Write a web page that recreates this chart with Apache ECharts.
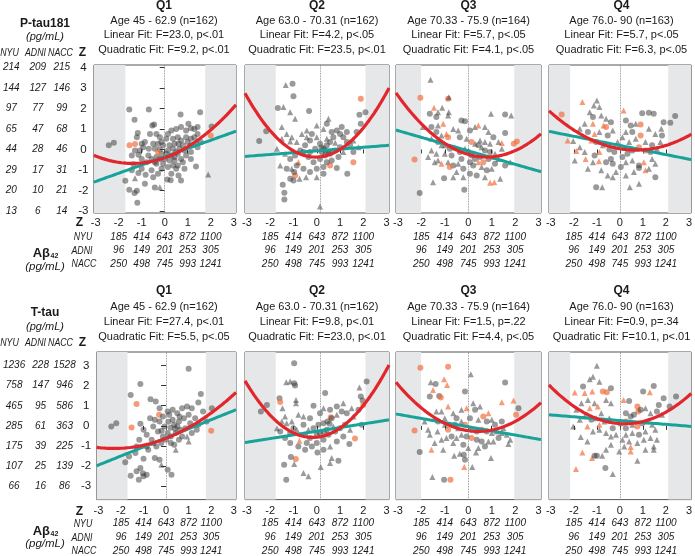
<!DOCTYPE html>
<html><head><meta charset="utf-8">
<script src="https://cdn.jsdelivr.net/npm/echarts@6/dist/echarts.min.js"></script>
<style>html,body{margin:0;padding:0;background:#fff}#c{width:695px;height:556px}</style>
</head><body><div id="c"></div>
<script>
// ---------- DATA ----------
const xTicks = [-3,-2,-1,0,1,2,3];
const zTicksRow1 = [-3,-2,-1,0,1,2,3,4];
const zTicksRow2 = [-3,-2,-1,0,1,2,3];
const abTableZ = [-2,-1,0,1,2];
const abNYU = ['185','414','643','872','1100'];
const abADNI = ['96','149','201','253','305'];
const abNACC = ['250','498','745','993','1241'];
const ptauNYU = ['13','20','29','44','65','97','144','214'];
const ptauADNI = ['6','10','17','28','47','77','127','209'];
const ptauNACC = ['14','21','31','46','68','99','146','215'];
const ttauNYU = ['66','107','175','285','465','758','1236'];
const ttauADNI = ['16','25','39','61','95','147','228'];
const ttauNACC = ['86','139','225','363','586','946','1528'];
const quartiles = ['Q1','Q2','Q3','Q4'];
const ageLabels = ['Age 45 - 62.9 (n=162)','Age 63.0 - 70.31 (n=162)','Age 70.33 - 75.9 (n=164)','Age 76.0- 90 (n=163)'];
const ptauLinearText = ['Linear Fit: F=23.0, p<.01','Linear Fit: F=4.2, p<.05','Linear Fit: F=5.7, p<.05','Linear Fit: F=5.7, p<.05'];
const ptauQuadText = ['Quadratic Fit: F=9.2, p<.01','Quadratic Fit: F=23.5, p<.01','Quadratic Fit: F=4.1, p<.05','Quadratic Fit: F=6.3, p<.05'];
const ttauLinearText = ['Linear Fit: F=27.4, p<.01','Linear Fit: F=9.8, p<.01','Linear Fit: F=1.5, p=.22','Linear Fit: F=0.9, p=.34'];
const ttauQuadText = ['Quadratic Fit: F=5.5, p<.05','Quadratic Fit: F=23.0, p<.01','Quadratic Fit: F=4.4, p<.05','Quadratic Fit: F=10.1, p<.01'];
const shadeLow = [-1.71,-1.76,-2.01,-2.16];
const shadeHigh = [1.76,2.09,1.96,2.1];
const refLine = [0,0.17,0,0];
// quadratic fit (vertex form) [a, h, k]: y = a(x-h)^2 + k ; linear fit [slope, intercept]
const ptauQuadFit = [[0.141,-1.4,-0.68],[0.339,-0.05,-0.37],[0.21,0.78,-0.37],[0.134,0.7,-0.03]];
const ptauLinFit = [[0.402,-0.356],[0.0875,-0.07],[-0.329,-0.067],[-0.223,0.195]];
const ttauQuadFit = [[0.0957,-2.3,-1.13],[0.3355,-0.18,-0.58],[0.2,0.42,-0.28],[0.18,0.2,0.1]];
const ttauLinFit = [[0.452,-0.6],[0.183,-0.27],[-0.207,-0.047],[-0.094,0.26]];
// points: [zAbeta, zTau, group]  group 0=gray circle,1=gray triangle,2=orange circle,3=orange triangle
const ptauQ1 = [[-2.43,0.2,0],[-2.21,0.33,0],[-1.54,1.95,0],[-1.31,1.45,0],[-0.69,1.95,0],[0.69,1.7,0],[1.54,1.82,0],[2.04,1.12,0],[1.89,-1.22,1],
[-1.71,-1.53,0],[-1.54,-1.97,0],[-1.31,-2.13,0],[-1.19,-2.6,0],[-1.21,-2.02,0],[-1.29,-1.4,1],[-0.86,-1.67,0],[-0.43,-1.85,0],[-0.21,-1.84,1],[0.11,-1.46,0],[0.26,-1.5,0],[0.71,-1.51,0],[0.6,-1.27,0],[1.36,-0.83,0],[-1.14,-1.15,0],[-1.0,-0.94,0],[-0.83,-1.24,0],[-0.5,-1.35,0],[-0.29,-1.19,0],[-0.57,-1.02,0],[-1.43,-1.02,0],[-1.36,-0.72,0],
[-1.17,0.8,0],[-1.21,0.6,0],[-0.86,0.36,0],[-0.54,1.17,0],[-0.46,1.22,0],[-0.36,0.76,0],[-0.21,0.6,0],[-0.5,0.28,0],[-0.69,0.03,0],[-1.07,-0.05,0],[-1.14,-0.26,0],[-1.0,-0.46,0],[-0.79,-0.62,0],[-0.57,-0.46,0],[-0.36,-0.37,0],[-0.14,-0.21,0],[0,-0.46,0],[-0.07,-0.7,0],[0.14,-0.86,0],[0.36,-0.78,0],[0.43,-0.54,0],[0.29,-0.29,0],[0.5,-0.13,0],[0.64,0.03,0],[0.79,0.2,0],[0.86,-0.05,0],[1.0,0.36,0],[1.14,0.52,0],[1.29,0.6,0],[1.43,0.76,0],[1.03,1.25,0],[1.14,1.04,0],[1.29,1.0,0],[1.43,1.09,0],[0.93,0.93,0],[0.71,1.09,0],[0.5,1.0,0],[0.29,0.93,0],[0.14,0.76,0],[0.07,0.52,0],[0.36,0.52,0],[0.57,0.6,0],[0.6,0.28,0],[0.21,0.2,0],[-0.07,0.2,0],[-0.29,0.28,0],[-0.43,0.03,0],[-0.21,0,0],[0.14,-0.05,0],[0.43,-0.37,0],[0.71,-0.46,0],[0.93,-0.29,0],[1.14,-0.13,0],[1.43,0.11,0],[1.57,0.36,0],[1.36,0.31,0],[0.57,-0.78,0],[0.86,-0.94,0],[0.29,-1.19,0],[-0.14,-0.94,0],[-0.36,-0.7,0],[-0.71,-0.29,0],[-0.93,0.11,0],[-1.29,-0.05,0],[-1.43,-0.29,0],
[0.07,-0.21,0],[0.36,0.03,0],[0.57,-0.21,0],[-0.14,0.36,0],[-0.64,0.76,0],[-1.0,0.28,0],[1.14,0.2,0],[0.93,0.6,0],[0.71,0.44,0],[0.43,0.28,0],[0.21,-0.54,0],[-0.21,-0.46,0],[-0.43,-0.62,0],[0.79,-0.62,0],[0.5,-0.94,0],[1.14,-0.46,0],
[-1.53,0.2,2],[-1.29,0.26,2],[-0.29,-0.13,2],[2.0,0.68,2]];
const ptauQ2 = [[-1.33,3.15,1],[-1.04,3.2,0],[-1.0,2.6,0],[-1.67,2.02,0],[-1.43,2.07,1],[-1.14,1.82,1],[-0.93,1.5,1],[-0.33,1.87,0],[-2.17,0.89,0],[-2.47,0.41,0],[1.89,2.47,2],[1.83,1.69,0],[2.09,1.82,0],[1.89,1.25,0],[1.57,-0.62,2],[-0.93,-1.27,2],[0.14,-2.78,1],[-1.46,-1.72,0],[-1.39,-2.11,0],[-1.39,-2.44,0],[-1.14,-1.43,0],[-1.0,-1.51,0],[-0.74,-1.43,1],[-0.46,-1.35,1],[0,-1.35,1],[0.29,-1.19,0],[0.57,-0.78,2],[-0.79,-0.62,3],[1.31,-1.19,0],[0.86,-0.91,0],[-1.5,1.09,1],[-1.29,0.76,1],[-1.07,0.6,1],[-0.86,0.36,1],[-1.5,0.52,1],[-1.14,0.39,1],[-1.57,-0.78,1],[-1.29,-0.94,0],[-1.14,-0.46,0],[-0.93,-0.29,0],[-0.71,-0.05,0],[-0.5,0.2,0],[-0.29,0.44,0],[0,0.6,1],[0.14,0.28,0],[0.29,0.03,0],[0.43,0.2,0],[0.57,0.36,0],[0.71,0.6,0],[0.86,0.93,0],[1.0,0.76,0],[1.14,0.6,0],[1.29,0.36,0],[1.43,0.2,0],[1.57,0.44,1],[1.71,0.85,0],[0.5,1.5,1],[0.43,1.25,0],[0.29,1.0,1],[0,1.17,1],[-0.21,0.76,0],[-0.43,0.6,1],[-0.57,-0.13,0],[-0.36,-0.37,0],[-0.14,-0.62,0],[0.14,-0.46,0],[0.36,-0.29,0],[0.57,-0.21,0],[0.79,-0.05,0],[1.0,0.11,0],[1.14,-0.13,1],[0.93,-0.37,0],[0.64,-0.54,0],[0.29,-0.86,0],[0,-0.94,0],[-0.29,-1.1,0],[-0.57,-0.94,0],[-0.86,-0.78,0],[-1.07,-0.94,1],[-0.29,-0.13,0],[-0.07,0.03,0],[0.21,-0.13,0],[0.43,-0.62,0],[1.29,0.85,0],[1.57,-0.13,0],[1.79,0.11,1],[0.79,0.33,1],[0.43,0.52,1],[0.64,0.85,0],[1.07,1.09,0],[-0.43,0.93,1],[-0.64,0.76,1],[-1.71,0.03,1],[-1.36,-0.21,1],[-0.97,-1.1,0],[0.36,-0.05,0],[0.5,-0.1,0],[0.2,0.1,0]];
const ptauQ3 = [[-1.61,3.4,1],[-2.04,2.52,2],[-0.86,2.47,2],[-0.83,2.55,1],[-1.46,2.03,3],[-1.11,2.03,1],[-1.64,1.74,0],[-1.29,1.82,1],[-1.36,1.58,0],[-0.83,1.82,1],[-0.86,1.66,1],[-2.29,-0.49,2],[-2.07,-2.13,0],[-0.17,-1.97,0],[-1.03,-1.4,0],[-1.5,-1.6,1],[1.57,1.71,0],[1.83,1.66,1],[0.97,1.74,1],[1.57,0.8,0],[1.43,0.31,3],[1.94,0.28,2],[2.07,0.39,2],[0.93,-1.63,3],[1.11,-1.6,3],
[-1.93,1.09,1],[-1.57,1.09,0],[-1.29,1.17,1],[-1.07,1.25,3],[-1.36,0.85,0],[-1.14,0.68,1],[-0.93,0.76,3],[-0.86,0.6,2],[-1.57,0.52,1],[-1.29,0.36,0],[-1.0,0.2,1],[-0.79,0.03,0],[-0.57,0.11,1],[-0.36,-0.13,0],[-0.29,1.41,0],[-0.14,1.37,0],[-0.64,1.0,1],[-0.43,0.93,1],[0.07,0.93,0],[0.29,1.09,1],[0.43,1.17,3],[0.71,1.09,1],[0.86,0.85,1],[1.07,0.6,0],[1.29,0.36,1],[1.43,0.03,1],[0.29,0.28,1],[0.43,0.2,0],[0.57,0.11,1],[0.71,-0.05,0],[0.93,-0.13,0],[1.14,-0.21,1],[1.29,-0.46,1],[1.14,-0.7,0],[1.0,-0.94,1],[0.79,-1.02,0],[0.57,-0.86,1],[0.43,-0.62,3],[0.29,-0.46,0],[0.14,-0.29,0],[0,-0.13,0],[-0.14,0.03,1],[-0.29,-0.46,0],[-0.43,-0.7,1],[-0.64,-0.78,0],[-0.86,-0.62,1],[-1.14,-0.7,3],[-1.29,-0.54,1],[-1.43,-0.62,1],[-1.71,-0.37,1],[-0.79,-0.86,2],[-0.5,-1.1,1],[-0.21,-0.94,0],[0.07,-1.19,0],[0.36,-1.27,0],[0.71,-1.35,1],[1.36,-1.43,1],[1.57,-0.78,0],[1.79,-0.62,1],[-0.21,-1.35,1],[-0.64,-1.35,1],[0.64,-0.62,2],[0.07,-0.62,0],[0.21,-0.78,0],[0.5,-0.37,0],[0.86,-0.46,0],[1.0,-0.37,3],[-0.71,-0.29,0],[-1.0,-0.21,1],[-1.36,-0.21,1],[-1.57,-0.05,1],[-1.14,0.2,1],[-0.36,0.6,0],[-0.07,0.52,1],[0.14,0.36,2],[0.5,0.44,1],[0.71,0.36,1],[0.93,0.28,1]];
const ptauQ4 = [[-2.53,1.71,2],[-1.63,2.31,3],[-1.0,2.39,1],[-1.13,2.15,1],[-0.89,2.07,1],[0.16,1.9,3],[0.97,1.77,0],[1.26,1.79,0],[1.47,1.74,0],[1.9,1.33,0],[2.19,1.3,0],[2.4,1.63,0],[1.8,1.01,1],[-2.27,0.44,3],[-2.03,0.41,1],[-1.89,-0.08,3],[-1.49,-0.46,3],[-0.91,-0.57,3],[-1.03,-1.84,0],[-0.77,-1.84,1],[0.43,-1.84,1],[0.83,-1.67,1],[-0.31,-1.35,1],[-0.53,-1.27,1],[1.54,-1.35,0],[1.11,-1.02,3],[0.83,-0.9,0],
[-1.31,1.82,1],[-1.17,1.58,0],[-0.81,1.66,1],[-0.6,1.5,1],[-0.39,1.33,0],[-1.17,1.25,3],[-0.71,1.17,3],[-0.6,1.09,2],[-1.53,1.25,1],[-1.74,1.01,1],[-1.39,0.85,0],[-1.1,0.76,3],[-0.89,0.85,1],[-0.53,0.68,0],[-0.31,0.93,1],[-1.24,0.44,3],[-1.03,0.36,0],[-0.74,0.2,1],[-0.46,0,0],[-0.24,-0.13,0],[-0.39,-0.46,0],[-0.6,-0.62,0],[-0.31,-0.7,0],[-1.17,-0.62,1],[-1.39,-0.94,1],[-0.81,-1.02,1],[-0.17,-1.1,1],[-1.74,0.11,1],[-1.53,-0.13,1],[0.26,1.41,0],[0.47,1.17,0],[0.69,1.25,1],[0.9,1.22,2],[0.54,0.85,0],[0.26,0.85,1],[0.11,0.6,1],[0.4,0.36,1],[0.69,0.52,1],[0.9,0.68,2],[1.11,0.36,1],[1.4,0.2,0],[1.61,0.03,1],[1.33,-0.13,0],[1.11,-0.05,2],[0.83,0.11,2],[0.54,-0.05,0],[0.33,-0.21,0],[0.11,-0.37,0],[0.26,-0.62,1],[0.54,-0.54,1],[0.83,-0.78,0],[1.04,-0.62,3],[1.4,-0.46,1],[1.54,-0.7,1],[1.26,-0.94,1],[0.61,-1.1,1],[0.26,-1.27,1],[0.04,-0.86,0],[1.76,0.36,1],[1.83,0.68,0],[1.54,0.76,1],[1.26,1.01,1],[0.04,0.11,2],[-0.1,0.36,1],[-0.89,-0.13,3],[-1.1,-0.29,0],[-1.96,-0.54,1]];
const ttauQ1 = [[-2.43,-0.03,0],[-2.21,0.13,0],[-1.57,1.54,0],[-1.14,2.09,0],[-1.31,1.09,2],[-1.53,-0.08,2],[-0.69,1.33,0],[-0.46,1.21,0],[-0.31,0.55,2],[1.0,2.84,0],[1.54,1.58,0],[2.0,-0.25,2],[2.03,0.88,0],[-1.81,-1.82,0],[-1.57,-2.49,0],[-1.31,-2.27,0],[-1.14,-2.11,0],[-1.0,-2.52,0],[-1.21,-2.69,0],[-0.86,-2.44,0],[-1.03,-2.36,0],[0.07,-2.19,0],[0.24,-2.44,0],[-0.21,-1.94,1],[-0.5,-1.61,0],[-0.29,-1.69,0],[1.0,-0.78,1],[0.43,-1.19,1],[-1.64,-1.53,0],[-1.36,-1.36,0],[-1.0,-1.64,0],
[-1.14,0.1,0],[-1.0,-0.2,0],[-0.86,-0.45,0],[-0.64,-0.7,0],[-0.57,-0.03,0],[-0.5,0.3,0],[-0.29,0.22,0],[-0.14,0.46,0],[0.07,0.71,0],[0.29,0.8,0],[0.5,0.63,0],[0.71,0.88,0],[0.93,0.96,0],[1.14,0.88,0],[1.43,1.16,0],[1.64,0.71,0],[1.29,0.38,0],[1.07,0.13,0],[0.86,-0.12,0],[0.64,-0.2,0],[0.43,-0.36,0],[0.21,-0.53,0],[0,-0.7,0],[-0.21,-0.86,0],[-0.43,-1.03,0],[0.07,-0.36,0],[0.36,0.05,0],[0.57,0.22,0],[0.79,0.38,0],[1.0,0.55,0],[0.29,0.3,0],[-0.07,-0.03,0],[-0.36,-0.28,0],[-0.71,0.38,0],[-0.29,0.88,0],[0.14,0.55,0],[0.5,-0.03,0],[0.71,-0.53,0],[1.14,-0.36,0],[1.43,0.05,0],[0.21,-0.86,0],[-0.14,-0.53,0],[-0.57,-0.86,1],[-0.79,-1.19,0],[0.57,-0.7,0],[0.36,-0.95,0],[0.93,-0.53,1],[1.36,-0.2,0],[1.79,0.22,0],[-1.19,-0.7,0],[-1.31,-1.03,0],[-0.86,-1.03,0],[0.1,0.2,0],[0.4,-0.15,0],[-0.2,-0.25,0],[0.6,0.45,0],[0.2,-0.1,0]];
const ttauQ2 = [[-0.97,3.12,0],[-1.31,2.17,1],[-1.14,2.21,1],[-0.97,2.12,0],[-0.93,2.01,0],[-2.4,0.71,0],[-2.14,1.04,0],[-1.6,1.38,0],[-1.57,1.19,2],[-1.47,0.88,1],[-0.89,1.29,1],[-0.89,1.13,1],[0.36,1.63,0],[1.83,1.91,1],[2.14,2.21,0],[1.89,1.46,0],[1.97,1.26,0],[2.0,1.04,2],[1.93,0.05,0],[1.64,-0.63,2],[1.4,-0.91,0],[-0.9,-1.66,2],[-1.11,-1.56,0],[-1.4,-1.94,0],[-0.97,-1.91,1],[-1.31,-2.69,0],[-0.36,-2.52,1],[-0.57,-2.35,1],[0.17,-2.06,1],[0.57,-1.86,1],[0.93,-1.74,0],[0.64,-1.61,1],[0.03,-1.33,0],[-0.74,-0.75,3],[0.6,0.43,2],
[-1.5,0.22,1],[-1.29,0.13,1],[-1.07,0.22,1],[-0.79,0.55,1],[-0.57,0.05,0],[-0.36,-0.2,1],[-0.14,-0.12,0],[0.07,0.05,0],[0.29,0.13,0],[0.46,0.22,0],[0.64,0.38,0],[0.86,0.55,1],[1.07,0.71,0],[1.29,0.63,0],[1.5,0.88,1],[1.14,1.13,1],[0.86,0.96,0],[0.57,0.8,0],[0.29,0.88,1],[-0.14,1.0,0],[0.14,0.63,0],[-0.29,0.38,0],[-0.5,-0.45,0],[-0.29,-0.61,0],[0,-0.86,0],[0.29,-0.7,0],[0.5,-0.45,0],[0.79,-0.28,0],[1.0,-0.12,0],[1.21,0.05,0],[1.43,-0.2,1],[1.14,-0.53,0],[0.86,-0.78,0],[0.57,-1.03,1],[0.29,-1.19,0],[-0.21,-1.03,0],[-0.5,-1.19,0],[-0.79,-1.03,0],[-1.14,-0.86,0],[-1.36,-0.61,0],[-1.57,-0.28,0],[-1.14,-0.36,0],[-0.86,-0.2,1],[-0.57,0.46,1],[-1.0,-0.12,0],[-0.43,-0.86,0],[0.71,-0.03,1],[1.57,0.46,1],[1.79,0.8,0],[-1.71,-0.12,1],[-1.36,0.46,1],[0.14,-0.36,0],[0.43,-0.2,0],[0.3,-0.3,0],[0.0,-0.45,0],[0.55,0.1,0]];
const ttauQ3 = [[-2.04,2.9,2],[-0.86,2.95,2],[-1.03,2.32,3],[-0.9,2.04,3],[-1.6,2.17,1],[-1.39,2.09,0],[-1.5,1.79,3],[-1.24,1.49,0],[-1.64,1.46,0],[-1.17,1.41,2],[0.11,2.57,1],[-0.14,1.71,0],[1.57,2.16,0],[1.93,1.26,3],[1.43,1.18,3],[2.14,0.88,0],[2.04,0.55,2],[-2.29,-0.23,2],[-2.07,-1.31,0],[-1.57,-1.19,3],[-1.53,-2.55,1],[-1.03,-2.69,0],[-0.76,-2.69,2],[-0.17,-2.06,3],[-0.14,-1.69,0],[-0.19,-1.44,0],[0.33,-1.33,1],[0.97,-1.61,1],[0.17,-2.06,1],[-0.6,-1.49,1],[-0.36,-1.39,1],[1.71,-0.91,1],
[-1.71,-0.2,1],[-1.64,-0.45,1],[-1.86,0.22,1],[-1.31,-0.28,1],[-1.29,0.22,0],[-1.0,0.38,1],[-0.86,-0.2,2],[-1.0,0.05,1],[-1.14,0.71,1],[-1.36,0.71,1],[-0.86,0.96,3],[-0.64,0.63,1],[-0.5,0.38,0],[-0.29,0.22,1],[-0.14,0.05,2],[-0.07,0.88,3],[0.29,0.8,0],[0.21,1.13,1],[0.5,0.96,1],[0.64,0.46,2],[0.86,0.63,3],[1.0,0.3,1],[1.14,0.05,0],[0.79,0.22,0],[0.43,0.3,1],[0.14,-0.2,0],[0.36,-0.28,0],[0.57,-0.2,2],[0.79,-0.28,0],[1.0,-0.36,1],[1.21,-0.28,1],[1.43,-0.36,1],[1.64,-0.45,1],[1.79,-0.7,1],[1.29,-0.61,0],[1.07,-0.78,1],[0.86,-0.78,1],[0.57,-0.78,0],[0.36,-0.7,0],[0.14,-0.61,2],[-0.07,-0.53,0],[-0.29,-0.45,1],[-0.5,-0.61,1],[-0.71,-0.53,0],[-0.93,-0.61,1],[-1.14,-0.7,1],[-0.64,-0.86,1],[-0.21,-0.95,0],[0,-1.11,1],[0.43,-1.11,1],[0.71,-1.03,0],[-0.43,-0.12,1],[-0.57,0.05,0],[-0.29,0.8,1],[0.07,0.38,0],[1.43,0.22,0],[1.5,-0.12,1],[-1.07,-1.19,1],[-1.43,-0.86,1]];
const ttauQ4 = [[-1.0,3.0,1],[-1.17,2.45,1],[-1.31,2.32,1],[-0.89,2.2,1],[-1.6,1.96,0],[-1.96,1.66,3],[-1.53,1.63,3],[-1.2,1.71,3],[-0.74,1.71,2],[-0.57,1.67,2],[-0.39,1.87,0],[0.16,1.29,3],[0.4,1.24,0],[1.01,1.71,0],[1.47,1.99,0],[1.3,1.67,3],[1.9,1.38,0],[1.69,1.04,0],[2.44,1.46,0],[2.16,0.96,0],[0.76,0.96,2],[0.8,0.71,2],[-1.91,-2.16,3],[-1.63,-1.33,3],[-1.21,-1.61,3],[-1.1,-1.49,0],[-1.0,-1.49,0],[-0.63,-2.11,0],[-0.31,-2.4,1],[-0.77,-1.49,1],[0.47,-1.28,3],[0.47,-1.06,3],[0.19,-1.03,1],[0.76,-1.74,1],[1.11,-1.19,1],[1.47,-1.2,1],[-2.03,-0.03,1],[-1.7,-0.56,1],[-1.41,-0.78,1],
[-1.89,0.8,1],[-1.67,1.13,1],[-1.39,1.29,1],[-1.31,0.88,3],[-1.1,1.13,1],[-0.96,0.96,3],[-0.81,0.63,1],[-0.6,1.29,1],[-0.39,1.13,1],[-1.53,0.46,1],[-1.24,0.3,0],[-1.03,0.38,1],[-0.89,0.05,3],[-0.67,0.22,1],[-0.46,0.38,1],[-0.31,-0.12,0],[-0.17,-0.45,1],[-0.39,-0.53,1],[-0.6,-0.36,1],[-0.89,-0.2,1],[-1.17,-0.28,1],[-1.41,-0.03,3],[-1.74,0.3,1],[0.26,0.63,0],[0.47,0.46,0],[0.61,0.55,0],[0.9,0.8,0],[1.11,0.88,1],[1.33,0.63,1],[1.61,0.71,0],[1.83,0.55,1],[0.26,0.22,2],[0.54,0.05,1],[0.76,-0.03,2],[0.97,0.13,0],[1.19,0.22,1],[1.4,0.05,1],[1.54,-0.2,1],[1.11,-0.28,1],[0.83,-0.45,0],[0.54,-0.36,1],[0.26,-0.45,1],[0.11,-0.7,1],[0.4,-0.78,1],[0.76,-0.86,1],[1.04,-0.7,1],[1.33,-0.61,1],[1.61,-0.7,1],[1.47,-1.03,1],[0.26,-0.12,0],[0.04,0.13,1],[-0.39,-0.95,1],[-0.6,-1.19,1],[-0.03,-1.28,1]];

// ---------- LAYOUT / STYLE ----------
const FONT = "'Liberation Sans', Arial, sans-serif";
const XMIN = -3.08, XMAX = 3.1;
const cols = [{left:92,width:144},{left:245,width:144},{left:396,width:145},{left:549,width:145}];
const rows = [
  {top:65,height:148,ymin:-3.1,ymax:4.12,ticks:zTicksRow1,tab:[ptauNYU,ptauADNI,ptauNACC],pts:[ptauQ1,ptauQ2,ptauQ3,ptauQ4],quad:ptauQuadFit,lin:ptauLinFit,linT:ptauLinearText,quadT:ptauQuadText,zm:10,titleY:[6,21,35,50],name:'P-tau181',headY:[24,37,53],abY:[253,267]},
  {top:352,height:148,ymin:-3.68,ymax:3.68,ticks:zTicksRow2,tab:[ttauNYU,ttauADNI,ttauNACC],pts:[ttauQ1,ttauQ2,ttauQ3,ttauQ4],quad:ttauQuadFit,lin:ttauLinFit,linT:ttauLinearText,quadT:ttauQuadText,zm:11.5,titleY:[291,307,322,337],name:'T-tau',headY:[313,327,343],abY:[531,544]}
];
const GRAY = 'rgba(50,50,50,0.62)', ORANGE = 'rgba(241,112,66,0.88)';

const grid = [], xAxis = [], yAxis = [], series = [], graphic = [];
function txt(x,y,text,font,align,sx){ graphic.push({type:'text',x:x,y:y,scaleX:sx||1,silent:true,style:{text:text,font:font,fill:'#1a1a1a',align:align||'center',verticalAlign:'middle',textAlign:align||'center',textVerticalAlign:'middle'}}); }

rows.forEach((R,r)=>{
  cols.forEach((C,c)=>{
    const g = grid.length;
    grid.push({left:C.left,top:R.top,width:C.width,height:R.height,show:true,borderColor:'#555',borderWidth:1,backgroundColor:'rgba(0,0,0,0)'});
    const xi = xAxis.length;
    xAxis.push({type:'value',gridIndex:g,position:'bottom',min:XMIN,max:XMAX,axisLine:{show:false},splitLine:{show:false},
      axisTick:{show:true,customValues:xTicks,length:4,lineStyle:{color:'#333'}},
      axisLabel:{customValues:xTicks,margin:R.zm,verticalAlign:'middle',fontSize:11,fontFamily:FONT,color:'#1a1a1a',formatter:v=>String(Math.round(v))}});
    [abNYU,abADNI,abNACC].forEach((arr,k)=>{
      xAxis.push({type:'value',gridIndex:g,position:'bottom',min:XMIN,max:XMAX,axisLine:{show:false},axisTick:{show:false},splitLine:{show:false},
        axisLabel:{customValues:abTableZ,margin:24+k*13.7,verticalAlign:'middle',fontSize:10,fontStyle:'italic',fontFamily:FONT,color:'#1a1a1a',
          formatter:v=>arr[abTableZ.indexOf(Math.round(v))]}});
    });
    const yi = yAxis.length;
    yAxis.push({type:'value',gridIndex:g,position:'left',min:R.ymin,max:R.ymax,axisLine:{show:false},splitLine:{show:false},
      axisTick:{show:c===0,customValues:R.ticks,length:5,lineStyle:{color:'#333'}},
      axisLabel:{show:c===0,customValues:R.ticks,margin:10.5,align:'center',fontSize:11.5,fontFamily:FONT,color:'#1a1a1a',formatter:v=>String(Math.round(v))}});
    if(c===0){
      const centers=[9.5,36,60];
      R.tab.forEach((arr,k)=>{
        yAxis.push({type:'value',gridIndex:g,position:'left',min:R.ymin,max:R.ymax,axisLine:{show:false},axisTick:{show:false},splitLine:{show:false},
          axisLabel:{customValues:R.ticks,margin:C.left-centers[k],align:'center',fontSize:10,fontStyle:'italic',fontFamily:FONT,color:'#1a1a1a',
            formatter:v=>arr[R.ticks.indexOf(Math.round(v))]}});
      });
    }
    // background shading + reference line
    series.push({type:'line',xAxisIndex:xi,yAxisIndex:yi,data:[],silent:true,z:1,
      markArea:{silent:true,itemStyle:{color:'#e6e7e8'},data:[[{xAxis:XMIN},{xAxis:shadeLow[c]}],[{xAxis:shadeHigh[c]},{xAxis:XMAX}]]},
      markLine:{silent:true,symbol:['none','none'],label:{show:false},lineStyle:{type:'dotted',color:'#777',width:0.8},data:[{xAxis:refLine[c]}]}});
    series.push({type:'scatter',xAxisIndex:xi,yAxisIndex:yi,data:R.pts[c],z:2,
      symbol:v=>(v[2]%2===1?'triangle':'circle'),symbolSize:v=>(v[2]%2===1?6:6),
      itemStyle:{color:p=>(p.data[2]>=2?ORANGE:GRAY)}});
    const xs=[]; for(let i=0;i<=124;i++) xs.push(XMIN+(XMAX-XMIN)*i/124);
    const L=R.lin[c], Q=R.quad[c];
    series.push({type:'line',xAxisIndex:xi,yAxisIndex:yi,z:3,showSymbol:false,symbol:'none',silent:true,
      data:xs.map(x=>[x,L[0]*x+L[1]]),lineStyle:{color:'#17a39a',width:3}});
    series.push({type:'line',xAxisIndex:xi,yAxisIndex:yi,z:4,showSymbol:false,symbol:'none',silent:true,
      data:xs.map(x=>[x,Q[0]*(x-Q[1])*(x-Q[1])+Q[2]]),lineStyle:{color:'#e2262b',width:3.2}});
    // titles
    const cx=C.left+C.width/2;
    txt(cx,R.titleY[0],quartiles[c],'bold 12px '+FONT);
    txt(cx,R.titleY[1],ageLabels[c],'11px '+FONT);
    txt(cx,R.titleY[2],R.linT[c],'11px '+FONT);
    txt(cx,R.titleY[3],R.quadT[c],'11px '+FONT);
  });
  // left header
  txt(45,R.headY[0],R.name,'bold 12px '+FONT);
  txt(45,R.headY[1],'(pg/mL)','italic 11px '+FONT);
  txt(9.5,R.headY[2],'NYU','italic 11px '+FONT,'center',0.8);
  txt(35.5,R.headY[2],'ADNI','italic 11px '+FONT,'center',0.8);
  txt(60.5,R.headY[2],'NACC','italic 11px '+FONT,'center',0.8);
  txt(82.5,R.headY[2],'Z','bold 12px '+FONT);
  // bottom-left labels
  const b = R.top+R.height;
  txt(79.5,b+R.zm,'Z','bold 12px '+FONT);
  txt(83,b+24,'NYU','italic 11px '+FONT,'center',0.8);
  txt(82,b+37.7,'ADNI','italic 11px '+FONT,'center',0.8);
  txt(84,b+51.4,'NACC','italic 11px '+FONT,'center',0.8);
  txt(50,R.abY[0],'Aβ','bold 13px '+FONT,'right');
  txt(50.5,R.abY[0]+3,'42','bold 7px '+FONT,'left');
  txt(45,R.abY[1],'(pg/mL)','italic 11.5px '+FONT);
});

const chart = echarts.init(document.getElementById('c'),null,{renderer:'canvas'});
chart.setOption({animation:false,backgroundColor:'#fff',grid,xAxis,yAxis,series,graphic});
</script></body></html>
